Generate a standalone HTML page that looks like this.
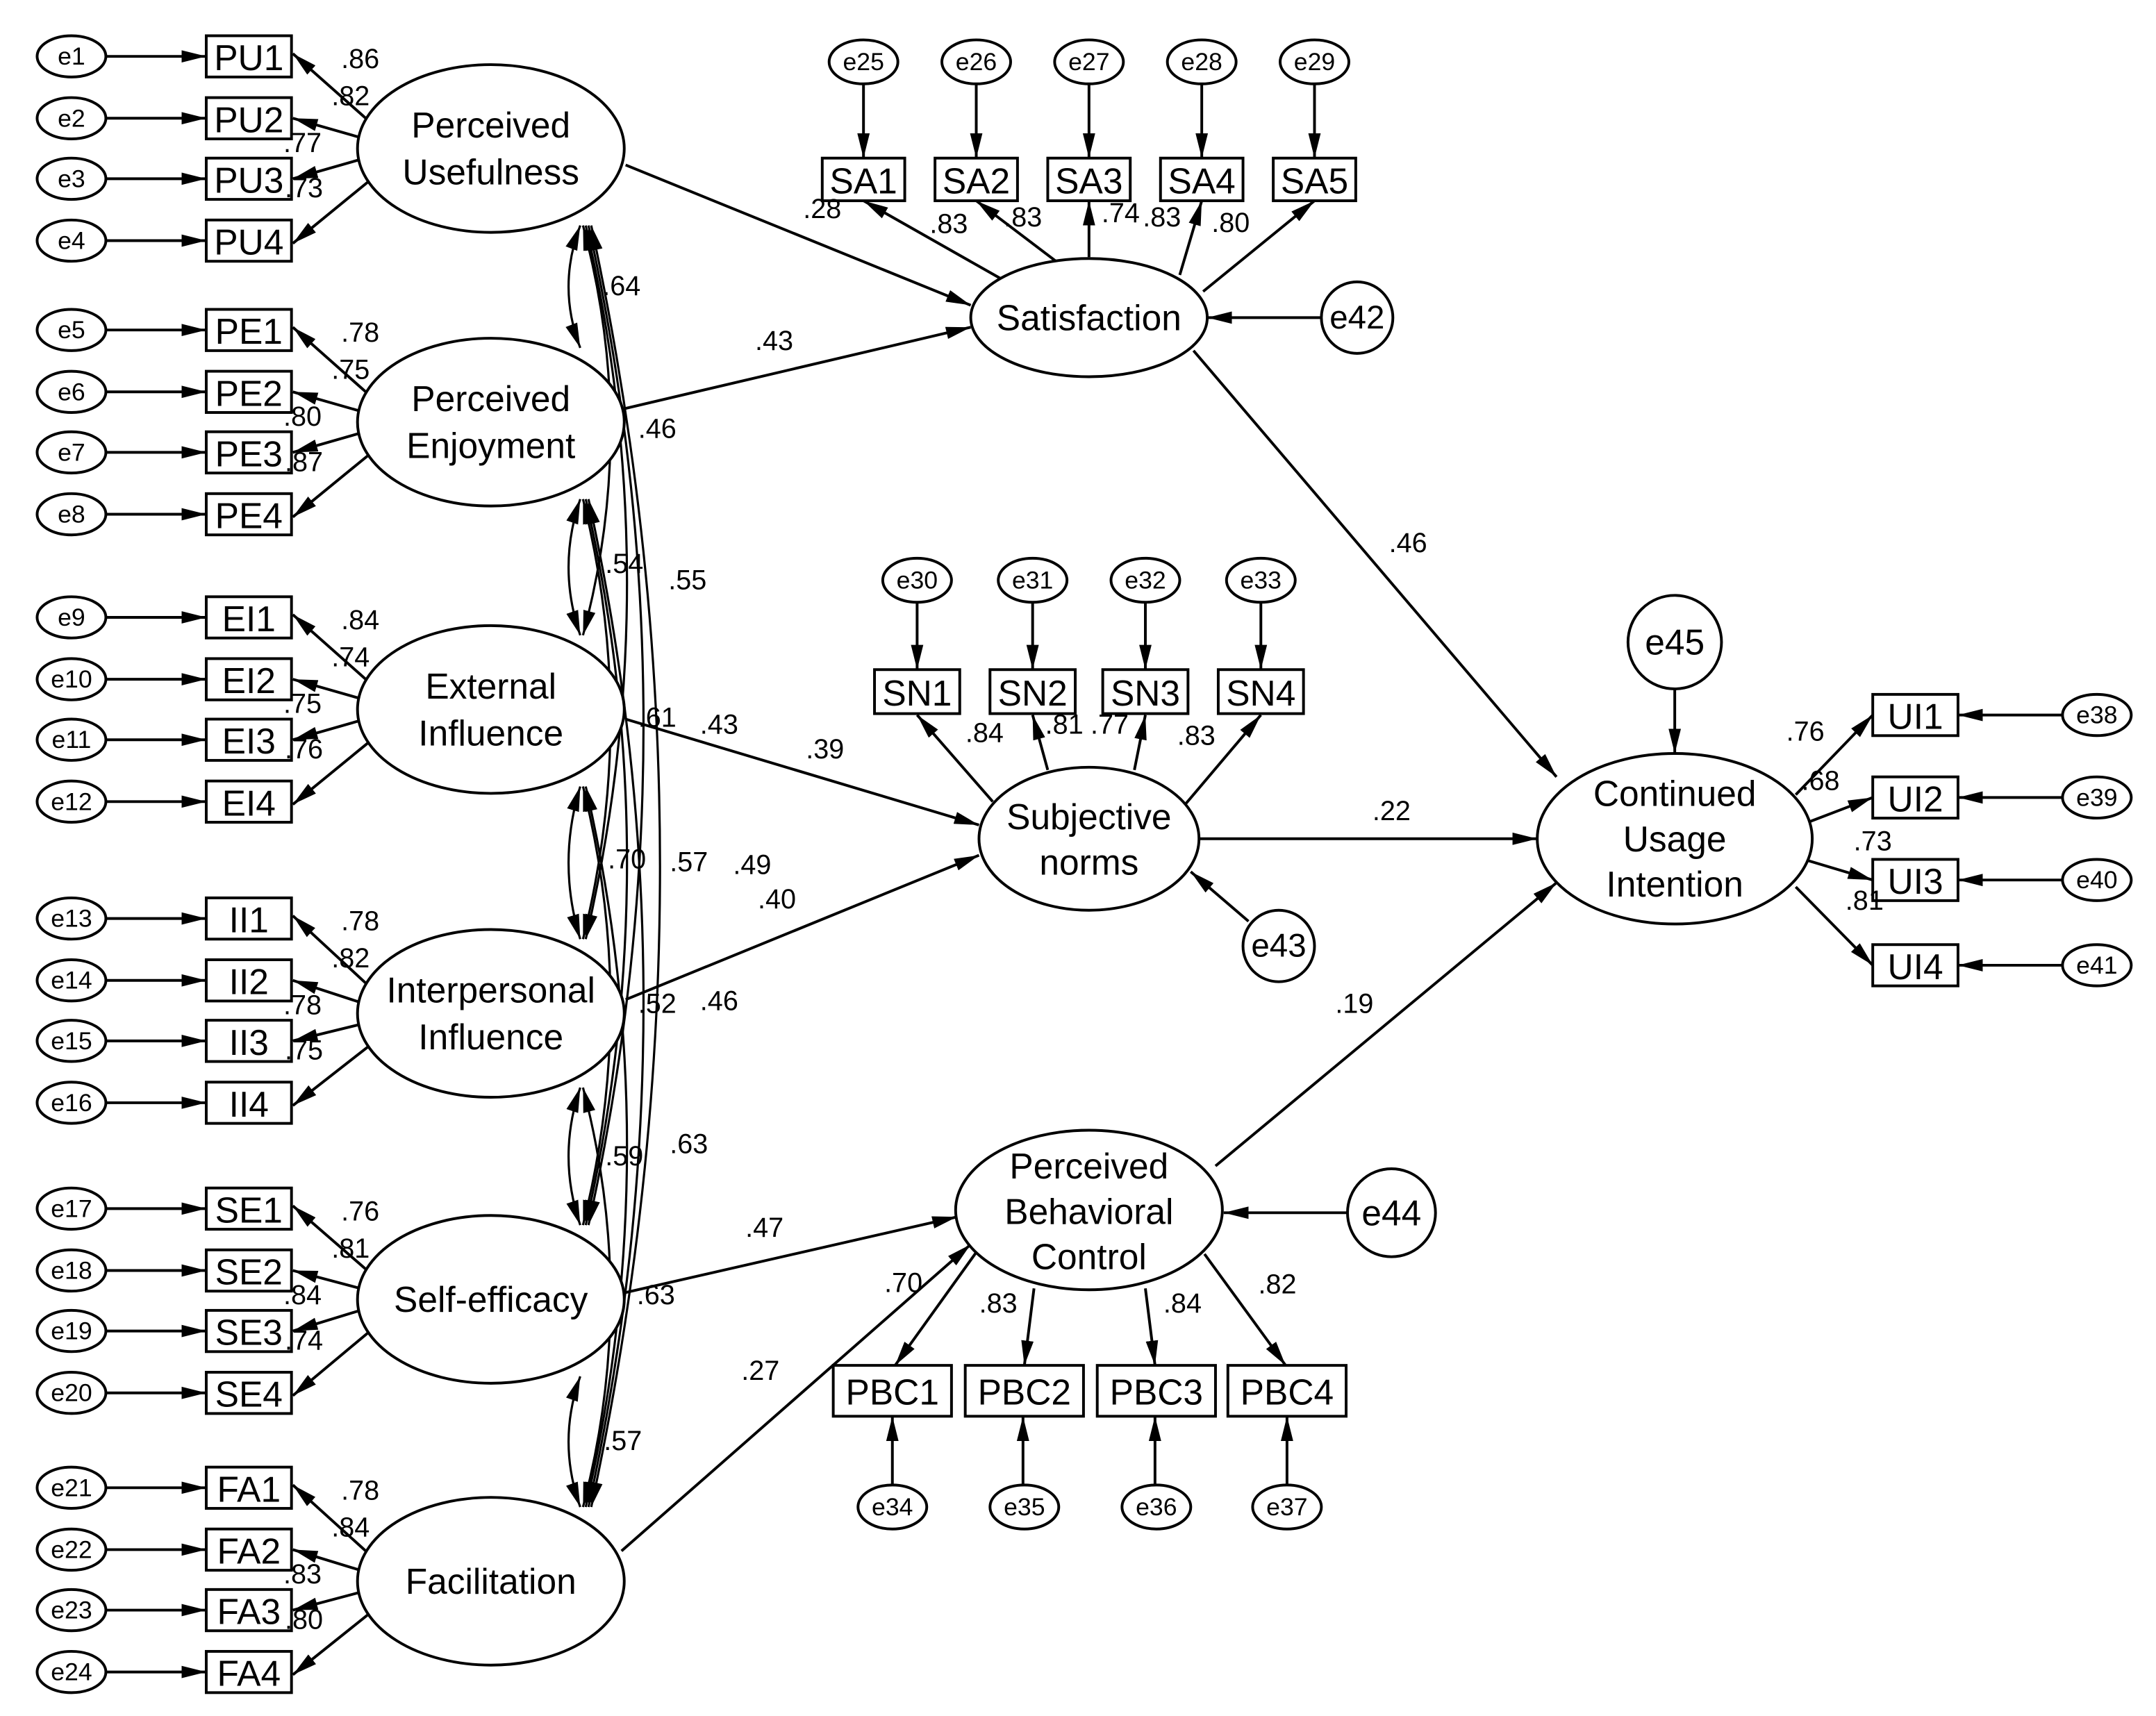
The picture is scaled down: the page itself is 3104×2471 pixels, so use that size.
<!DOCTYPE html>
<html><head><meta charset="utf-8"><style>
html,body{margin:0;padding:0;background:#fff;}
svg{display:block;}
text{font-family:"Liberation Sans",Arial,sans-serif;fill:#000;}
</style></head><body>
<svg id="s" width="3104" height="2471" viewBox="0 0 1568 1248" preserveAspectRatio="none" xmlns="http://www.w3.org/2000/svg">
<defs>
<marker id="a" viewBox="0 0 10 10" refX="10" refY="5" markerWidth="11" markerHeight="11" markerUnits="userSpaceOnUse" orient="auto-start-reverse"><path d="M0,1 L10,5 L0,9 z" fill="#000"/></marker>
<marker id="b" viewBox="0 0 10 10" refX="10" refY="5" markerWidth="18" markerHeight="18" markerUnits="userSpaceOnUse" orient="auto-start-reverse"><path d="M0,2.5 L10,5 L0,7.5 z" fill="#000"/></marker>
</defs>
<g id="g" stroke="#000" stroke-width="2" fill="none"></g>
<g id="t"></g>
</svg>
<script>
const g=document.getElementById('g'),t=document.getElementById('t');
const NS="http://www.w3.org/2000/svg";
function el(p,tag,at){const e=document.createElementNS(NS,tag);for(const k in at)e.setAttribute(k,at[k]);p.appendChild(e);return e;}
function tx(x,y,s,fs){const e=el(t,'text',{x:x,y:y,'font-size':fs||20,'text-anchor':'middle','dominant-baseline':'central'});e.textContent=s;return e;}
function line(x1,y1,x2,y2){el(g,'line',{x1,y1,x2,y2,'marker-end':'url(#b)'});}
function ell(cx,cy,rx,ry){el(g,'ellipse',{cx,cy,rx,ry,fill:'#fff'});}
function box(x,y,w,h,s){el(g,'rect',{x,y,width:w,height:h,fill:'#fff'});tx(x+w/2,y+h/2+1,s,26);}
// left groups
const groups=[
 ['PU',41,108,['Perceived','Usefulness'],['.86','.82','.77','.73'],1],
 ['PE',240,307,['Perceived','Enjoyment'],['.78','.75','.80','.87'],5],
 ['EI',449,516,['External','Influence'],['.84','.74','.75','.76'],9],
 ['II',668,737,['Interpersonal','Influence'],['.78','.82','.78','.75'],13],
 ['SE',879,945,['Self-efficacy'],['.76','.81','.84','.74'],17],
 ['FA',1082,1150,['Facilitation'],['.78','.84','.83','.80'],21]];
const gaps=[45,44.5,44.5];
groups.forEach(gr=>{
 const [p,y0,cy,lab,ld,en]=gr;
 const ys=[y0,y0+45,y0+89,y0+134];
 const from=[[266,cy-22],[262,cy-8],[262,cy+8],[268,cy+24]];
 ys.forEach((y,i)=>{
  line(from[i][0],from[i][1],213,y+(i==0?-2:i==3?2:0));
  line(77,y,150,y);
 });
});
// correlations
const cys=groups.map(x=>x[2]);
for(let i=0;i<6;i++)for(let j=i+1;j<6;j++){
 const y1=cys[i]+(i==3?58:60)-4, y2=cys[j]-58+4;
 const x1=420+ (j-i)*2, x2=420+(j-i)*2;
 const d=j-i; const cx = d==1? 405 : 420+d*22;
 el(g,'path',{d:`M${x1},${y1} Q${cx},${(y1+y2)/2} ${x2},${y2}`,'marker-start':'url(#b)','marker-end':'url(#b)','stroke-width':1.6});
}
// structural
line(455,120,706,222);line(455,297,706,238);line(868,255,1132,565);
line(455,523,712,600);line(455,727,712,622);line(872,610,1118,610);
line(884,848,1132,642);line(455,940,696,885);line(452,1128,706,905);
// Sat loadings
line(732,205,628,146);line(768,190,710,146);line(792,187,792,146);line(858,200,874,146);line(875,212,956,146);
[628,710,792,874,956].forEach(x=>line(x,61,x,115));
line(961,231,878,231);
// SN
line(722,583,667,520);line(762,560,751,520);line(825,560,833,520);line(862,585,917,520);
[667,751,833,917].forEach(x=>line(x,438,x,487));
line(908,670,866,634);
// PBC
line(712,908,651,993);line(752,937,745,993);line(833,937,840,993);line(876,912,935,993);
[649,744,840,936].forEach(x=>line(x,1080,x,1030));
line(980,882,890,882);
// UI
line(1306,578,1362,520);line(1315,598,1362,580);line(1312,625,1362,640);line(1306,645,1362,702);
[520,580,640,702].forEach(y=>line(1500,y,1424,y));
line(1218,501,1218,548);
// shapes on top
groups.forEach(gr=>{
 const [p,y0,cy,lab,ld,en]=gr;
 const ys=[y0,y0+45,y0+89,y0+134];
 ys.forEach((y,i)=>{ell(52,y,25,15);tx(52,y,'e'+(en+i),18);box(150,y-15,62,30,p+(i+1));});
 ell(357,cy,97,61);
 if(lab.length==2){tx(357,cy-17,lab[0],26);tx(357,cy+17,lab[1],26);}else tx(357,cy,lab[0],26);
 const lp=[[262,y0+2],[255,y0+29],[220,y0+63],[221,y0+96]];
 ld.forEach((s,i)=>tx(lp[i][0],lp[i][1],s,20));
});
['SA1','SA2','SA3','SA4','SA5'].forEach((s,i)=>{const x=628+82*i;box(x-30,115,60,31,s);ell(x,45,25,16);tx(x,45,'e'+(25+i),18);});
ell(792,231,86,43);tx(792,231,'Satisfaction',26);
el(g,'circle',{cx:987,cy:231,r:26,fill:'#fff'});tx(987,231,'e42',24);
['SN1','SN2','SN3','SN4'].forEach((s,i)=>{const x=[667,751,833,917][i];box(x-31,487,62,32,s);ell(x,422,25,16);tx(x,422,'e'+(30+i),18);});
ell(792,610,80,52);tx(792,594,'Subjective',26);tx(792,627,'norms',26);
el(g,'circle',{cx:930,cy:688,r:26,fill:'#fff'});tx(930,688,'e43',24);
ell(792,880,97,58);tx(792,848,'Perceived',26);tx(792,881,'Behavioral',26);tx(792,914,'Control',26);
el(g,'circle',{cx:1012,cy:882,r:32,fill:'#fff'});tx(1012,882,'e44',26);
['PBC1','PBC2','PBC3','PBC4'].forEach((s,i)=>{const x=[649,745,841,936][i];box(x-43,993,86,37,s);ell(x,1096,25,16);tx(x,1096,'e'+(34+i),18);});
ell(1218,610,100,62);tx(1218,577,'Continued',26);tx(1218,610,'Usage',26);tx(1218,643,'Intention',26);
el(g,'circle',{cx:1218,cy:467,r:34,fill:'#fff'});tx(1218,467,'e45',26);
[520,580,640,702].forEach((y,i)=>{box(1362,y-15,62,30,'UI'+(i+1));ell(1525,y,25,15);tx(1525,y,'e'+(38+i),18);});
// labels
const L=[[598,152,'.28'],[690,163,'.83'],[744,158,'.83'],[815,155,'.74'],[845,158,'.83'],[895,162,'.80'],
[563,248,'.43'],[1024,395,'.46'],[600,545,'.39'],[565,654,'.40'],[1012,590,'.22'],[985,730,'.19'],[556,893,'.47'],[553,997,'.27'],
[716,533,'.84'],[774,527,'.81'],[807,527,'.77'],[870,535,'.83'],
[657,933,'.70'],[726,948,'.83'],[860,948,'.84'],[929,934,'.82'],
[1313,532,'.76'],[1324,568,'.68'],[1362,612,'.73'],[1356,655,'.81'],
[452,208,'.64'],[478,312,'.46'],[454,410,'.54'],[500,422,'.55'],[478,522,'.61'],[523,527,'.43'],[456,625,'.70'],[501,627,'.57'],[547,629,'.49'],[478,730,'.52'],[523,728,'.46'],[454,841,'.59'],[501,832,'.63'],[477,942,'.63'],[453,1048,'.57']];
L.forEach(l=>tx(l[0],l[1],l[2],20));
</script>
</body></html>
